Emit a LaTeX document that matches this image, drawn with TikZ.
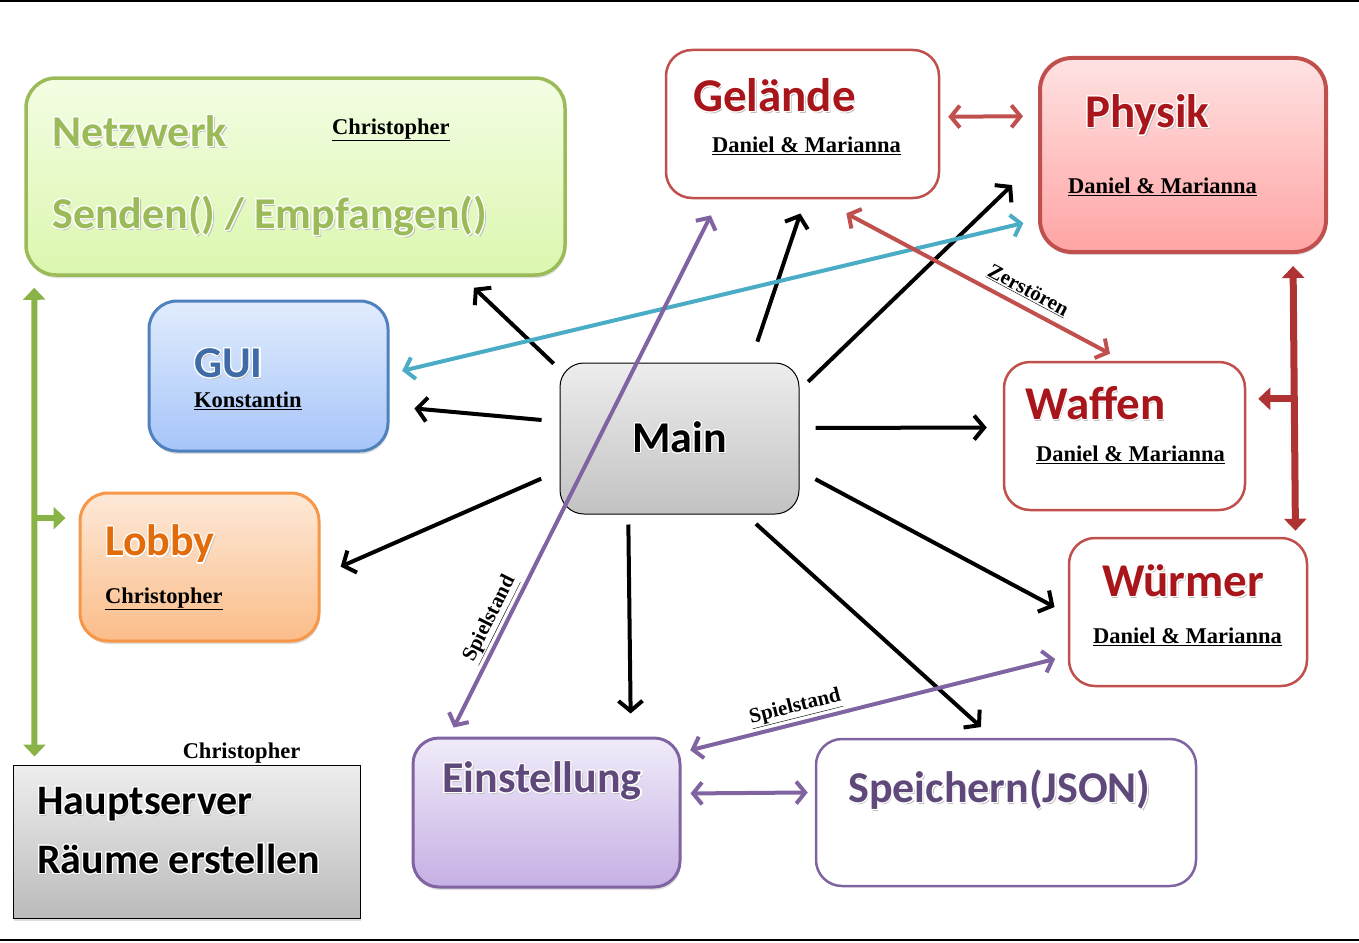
\documentclass[tikz,border=0pt]{standalone}
\usepackage{fontspec}
\usepackage{contour}
\usetikzlibrary{arrows.meta,shadows}
\setmainfont{Liberation Serif}
\newfontfamily\carlito{Carlito}
\contourlength{1.1pt}
\contournumber{20}

\definecolor{netzB}{HTML}{9BBB59}
\definecolor{netzT}{HTML}{F4FDE4}
\definecolor{netzU}{HTML}{DBF7AE}
\definecolor{greenA}{HTML}{8AB347}
\definecolor{guiB}{HTML}{4F81BD}
\definecolor{guiT}{HTML}{E1ECFD}
\definecolor{guiU}{HTML}{A6C5F9}
\definecolor{guiC}{HTML}{3F6CA6}
\definecolor{lobB}{HTML}{F79646}
\definecolor{lobT}{HTML}{FDE9D8}
\definecolor{lobU}{HTML}{FBBD89}
\definecolor{lobC}{HTML}{E36C0A}
\definecolor{redB}{HTML}{C0504D}
\definecolor{redC}{HTML}{A8161B}
\definecolor{phyT}{HTML}{FFE2E2}
\definecolor{phyU}{HTML}{FFA4A4}
\definecolor{redA}{HTML}{AF3333}
\definecolor{purB}{HTML}{8064A2}
\definecolor{purC}{HTML}{5F497A}
\definecolor{einT}{HTML}{F0EBF9}
\definecolor{einU}{HTML}{C6B0E4}
\definecolor{cyanA}{HTML}{4BACC6}
\definecolor{mainT}{HTML}{EDEDED}
\definecolor{mainU}{HTML}{C2C2C2}
\definecolor{haupT}{HTML}{EEEEEE}
\definecolor{haupU}{HTML}{BBBBBB}

% word-art look: soft shadow plus white outline
\newcommand\wart[1]{\rlap{\hspace{1.5pt}\raisebox{-2pt}{\textcolor{black!25}{#1}}}\contour{white}{#1}}

\begin{document}
\begin{tikzpicture}[x=1pt, y=-1pt,
  box/.style={draw, line width=2.5pt, rounded corners=26pt},
  shade/.style={drop shadow={opacity=0.25, shadow xshift=1pt, shadow yshift=-3pt}},
  title/.style={anchor=west, inner sep=0pt, font=\carlito\bfseries\fontsize{44}{48}\selectfont},
  redtitle/.style={title, text=redC, font=\carlito\bfseries\fontsize{47}{50}\selectfont},
  who/.style={anchor=west, inner sep=0pt, font=\bfseries\fontsize{22.5}{26}\selectfont},
  lbl/.style={inner sep=3pt, text=black, font=\bfseries\fontsize{21}{24}\selectfont},
  arr/.style={line width=4pt, -{Straight Barb[length=10pt,width=24pt]}},
  link/.style={line width=4pt, {Straight Barb[length=9pt,width=22pt]}-{Straight Barb[length=9pt,width=22pt]}},
  fat/.style={line width=#1, {Triangle[length=12pt,width=22pt]}-{Triangle[length=12pt,width=22pt]}},
  fatone/.style={line width=#1, -{Triangle[length=12pt,width=22pt]}}
]
\useasboundingbox (0,0) rectangle (1359,942);
\draw[line width=2pt] (0,1) -- (1359,1);
\draw[line width=2pt] (0,940) -- (1359,940);

% left column
\node[box, shade, draw=netzB, top color=netzT, bottom color=netzU, line width=3.5pt,
  rounded corners=30pt, minimum width=539pt, minimum height=197pt] (netz) at (295.5,176.5) {};
\node[title, text=netzB] (netzT) at (52,132) {\wart{Netzwerk}};
\node[title, text=netzB] (netzS) at (52,217) {\wart{Senden() / Empfangen()}};
\node[who] (netzW) at (332,130) {\underline{Christopher}};

\node[box, shade, draw=guiB, top color=guiT, bottom color=guiU, line width=3pt,
  rounded corners=28pt, minimum width=239pt, minimum height=150pt] (gui) at (268.5,376) {};
\node[title, text=guiC] (guiT) at (194,364) {\wart{GUI}};
\node[who] (guiW) at (194,401) {\underline{Konstantin}};

\node[box, shade, draw=lobB, top color=lobT, bottom color=lobU, line width=3pt,
  rounded corners=28pt, minimum width=239pt, minimum height=148pt] (lobby) at (199.5,567) {};
\node[title, text=lobC] (lobT) at (105,545) {\wart{Lobby}};
\node[who] (lobW) at (105,599) {\underline{Christopher}};

\node[shade, draw=black, line width=1pt, top color=haupT, bottom color=haupU,
  minimum width=347pt, minimum height=153pt] (haupt) at (186.5,841.5) {};
\node[title, font=\carlito\bfseries\fontsize{42}{44}\selectfont] (haupT) at (37,805) {\wart{Hauptserver}};
\node[title, font=\carlito\bfseries\fontsize{42}{44}\selectfont] (haupR) at (37,860) {\wart{Räume erstellen}};
\node[who, anchor=center] (haupW) at (241.5,753) {Christopher};

% centre
\node[box, draw=black, line width=1pt, top color=mainT, bottom color=mainU,
  rounded corners=24pt, minimum width=239pt, minimum height=151pt,
  font=\carlito\bfseries\fontsize{44}{48}\selectfont] (main) at (679.5,438.5) {\wart{Main}};

\node[box, draw=purB, shade, top color=einT, bottom color=einU, line width=3pt,
  minimum width=267pt, minimum height=149pt] (einst) at (546.5,812.5) {};
\node[title, text=purC] (einT) at (442,782) {\wart{Einstellung}};

\node[box, draw=purB, fill=white, minimum width=380pt, minimum height=147pt] (speich) at (1006,812.5) {};
\node[title, text=purC] (speT) at (848,791) {\wart{Speichern(JSON)}};

% right column
\node[box, draw=redB, fill=white, minimum width=273pt, minimum height=148pt] (gel) at (802.5,124) {};
\node[redtitle] (gelT) at (693,96) {\wart{Gelände}};
\node[who] (gelW) at (712,146) {\underline{Daniel \& Marianna}};

\node[box, shade, draw=redB, top color=phyT, bottom color=phyU, line width=4pt,
  rounded corners=32pt, minimum width=286pt, minimum height=194pt] (phys) at (1183,155) {};
\node[redtitle] (phyT) at (1085,116) {\wart{Physik}};
\node[who] (phyW) at (1068,187) {\underline{Daniel \& Marianna}};

\node[box, draw=redB, fill=white, minimum width=241pt, minimum height=148pt] (waffen) at (1124.5,436) {};
\node[redtitle] (wafT) at (1025,404) {\wart{Waffen}};
\node[who] (wafW) at (1036,455) {\underline{Daniel \& Marianna}};

\node[box, draw=redB, fill=white, minimum width=238pt, minimum height=148pt] (wuerm) at (1188,612) {};
\node[redtitle] (wueT) at (1102,582) {\wart{Würmer}};
\node[who] (wueW) at (1093,637) {\underline{Daniel \& Marianna}};

% Main calls everything
\foreach \a/\b/\gs/\ge in {150/netz.-31/8/16, 172/gui.-14/18/25, 195/lobby.-4/20/22,
    236/einst.42.5/10/23, -49/speich.100.6/14/16, -15.7/wuerm.181/18/15,
    5/waffen.176.2/16/16, 22.7/phys.182.4/12/36, 47.9/gel.-88.2/22/15}
  \draw[arr, shorten <=\gs pt, shorten >=\ge pt] (main.\a) -- (\b);

% data links
\draw[link, cyanA, shorten <=13pt, shorten >=15pt] (gui.1) -- (phys.204.6);
\draw[link, redB, shorten <=8pt, shorten >=15pt] (gel.3.3) -- (phys.165);
\draw[link, redB, shorten <=30pt, shorten >=15pt] (gel.-77.8)
  -- node[lbl, sloped, above, pos=0.66, yshift=4pt] (zerL) {\underline{Zerstören}} (waffen.91.1);
\draw[link, purB, shorten <=10pt, shorten >=18pt] (einst.142.1)
  -- node[lbl, sloped, above, pos=0.205] (spiL1) {\underline{Spielstand}} (gel.222.3);
\draw[link, purB, shorten <=9pt, shorten >=13pt] (einst.24.2)
  -- node[lbl, sloped, above, pos=0.305] (spiL2) {\underline{Spielstand}} (wuerm.200.9);
\draw[link, purB, shorten <=9pt, shorten >=7pt] (einst.8.25) -- (speich.174.2);

% physics bus on the right
\draw[fat=7pt, redA, shorten <=12pt, shorten >=6pt] (phys.-42.2) -- (wuerm.35.8);
\draw[fatone=7pt, redA, shorten >=12pt] (waffen.17 -| phys.-42.2) -- (waffen.17);

% network bus on the left
\coordinate (gtop) at ([xshift=10pt]netz.south west);
\draw[fat=6pt, greenA, shorten <=11pt, shorten >=8pt] (gtop) -- ([xshift=22pt]haupt.north west);
\draw[fatone=6pt, greenA, shorten >=13pt] (lobby.158.7 -| gtop) -- (lobby.158.7);
\end{tikzpicture}
\end{document}
